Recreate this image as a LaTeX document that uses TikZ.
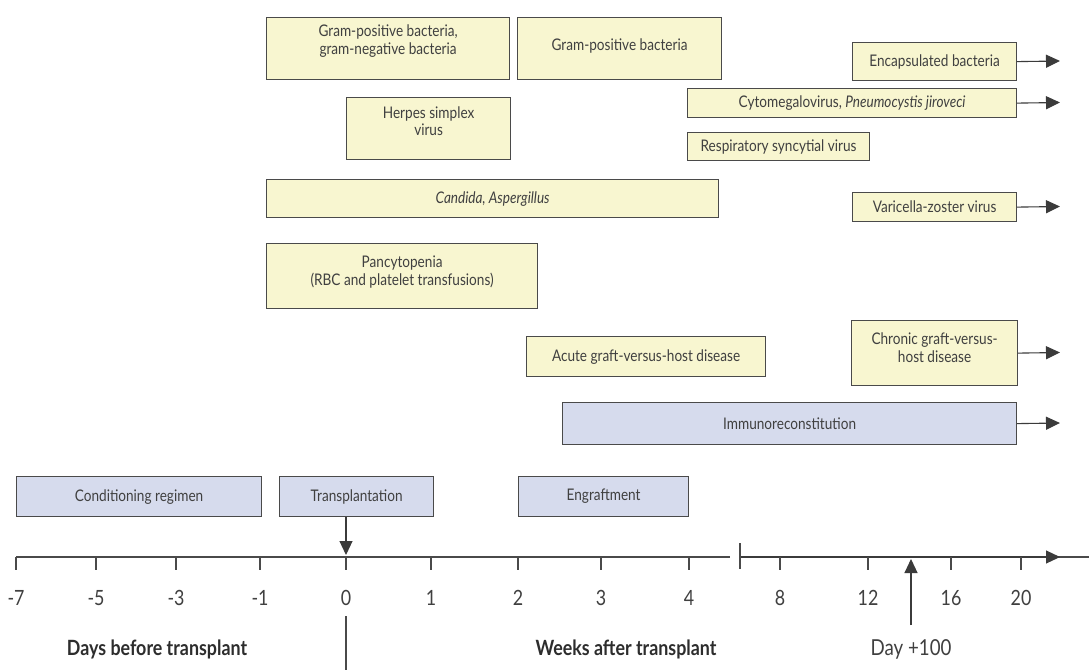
\documentclass[tikz,border=0pt]{standalone}
\usepackage{fontspec}
\setmainfont[FakeStretch=0.85]{Lato}
\usetikzlibrary{arrows.meta,calc}
\definecolor{yfill}{HTML}{F8F6D0}
\definecolor{bfill}{HTML}{D6DBED}
\definecolor{edge}{HTML}{4A4A4A}
\definecolor{txt}{HTML}{404040}
\begin{document}
\begin{tikzpicture}[x=1pt,y=-1pt,
 box/.style={draw=edge, line width=1.2pt, anchor=north west, align=center, text=txt,
   font=\fontsize{16}{17.5}\selectfont, inner sep=2pt},
 ybox/.style={box, fill=yfill},
 bbox/.style={box, fill=bfill},
 arr/.style={draw=edge!80!black, line width=1.1pt, -{Triangle[length=14pt,width=13pt]}},
 axis/.style={draw=edge, line width=1.2pt},
 num/.style={text=txt, font=\fontsize{21}{22}\selectfont},
 boldlab/.style={text=txt!70!black, font=\bfseries\fontsize{21}{22}\selectfont},
 lab/.style={text=txt, font=\fontsize{22}{23}\selectfont}]
\useasboundingbox[fill=white] (0,0) rectangle (1089,670);

% yellow boxes
\node[ybox, minimum width=243pt, minimum height=62pt, text depth=18pt] (gpgn) at (266,17) {Gram-positive bacteria,\\gram-negative bacteria};
\node[ybox, minimum width=204pt, minimum height=62pt, text depth=8pt] (gp) at (517,17) {Gram-positive bacteria};
\node[ybox, minimum width=164pt, minimum height=62pt, text depth=15pt] (hsv) at (346,97) {Herpes simplex\\virus};
\node[ybox, minimum width=452pt, minimum height=38pt] (cand) at (266,179) {\itshape Candida, Aspergillus};
\node[ybox, minimum width=164pt, minimum height=38pt] (enc) at (852,42) {Encapsulated bacteria};
\node[ybox, minimum width=329pt, minimum height=29pt] (cmv) at (687,88) {Cytomegalovirus, \itshape Pneumocystis jiroveci};
\node[ybox, minimum width=182pt, minimum height=28pt] (rsv) at (687,132) {Respiratory syncytial virus};
\node[ybox, minimum width=164pt, minimum height=29pt] (vzv) at (852,192) {Varicella-zoster virus};
\node[ybox, minimum width=271pt, minimum height=65pt, text depth=11pt] (pan) at (266,243) {Pancytopenia\\(RBC and platelet transfusions)};
\node[ybox, minimum width=239pt, minimum height=40pt] (agvhd) at (526,336) {Acute graft-versus-host disease};
\node[ybox, minimum width=166pt, minimum height=65pt, text depth=11pt] (cgvhd) at (851,320) {Chronic graft-versus-\\host disease};
% blue boxes
\node[bbox, minimum width=454pt, minimum height=42pt] (immuno) at (562,402) {Immunoreconstitution};
\node[bbox, minimum width=245pt, minimum height=40pt] (cond) at (16,476) {Conditioning regimen};
\node[bbox, minimum width=154pt, minimum height=40pt] (trans) at (279,476) {Transplantation};
\node[bbox, minimum width=170pt, minimum height=40pt] (engr) at (518,476) {Engraftment};

% continuation arrows
\coordinate (eEnc) at (1060,61);
\coordinate (eCmv) at (1060,102.5);
\coordinate (eVzv) at (1060,206.5);
\coordinate (eCg) at (1060,352.5);
\coordinate (eIm) at (1060,423);
\draw[arr] (enc.east) -- (eEnc);
\draw[arr] (cmv.east) -- (eCmv);
\draw[arr] (vzv.east) -- (eVzv);
\draw[arr] (cgvhd.east) -- (eCg);
\draw[arr] (immuno.east) -- (eIm);

% axis
\coordinate (a0) at (16,557);
\coordinate (a1) at (730,557);
\coordinate (b0) at (740,557);
\coordinate (aEnd) at (1089,557);
\coordinate (aTip) at (1060,557);
\draw[axis] (a0) -- (a1);
\draw[axis] (b0) -- (aEnd);
\draw[arr] (b0) -- (aTip);
\draw[axis] (740,543) -- (740,569);
\foreach \x/\t in {16/-7,96/-5,176/-3,260/-1,346/0,431/1,518/2,601/3,689/4,780/8,868/12,951/16,1021/20}{
  \draw[axis] (\x,557) -- (\x,570);
  \node[num] (n\t) at (\x,598) {\t};
}

% transplant arrow
\coordinate (t0) at (346,555);
\draw[arr] (trans.south -| t0) -- (t0);
\coordinate (z0) at (346,616);
\coordinate (z1) at (346,670);
\draw[axis] (z0) -- (z1);

% day +100
\coordinate (d0) at (911,625);
\coordinate (d1) at (911,559);
\draw[arr] (d0) -- (d1);
\node[lab] (day) at (911,649) {Day +100};

\node[boldlab] (days) at (157,649) {Days before transplant};
\node[boldlab] (weeks) at (626,649) {Weeks after transplant};
\end{tikzpicture}
\end{document}
